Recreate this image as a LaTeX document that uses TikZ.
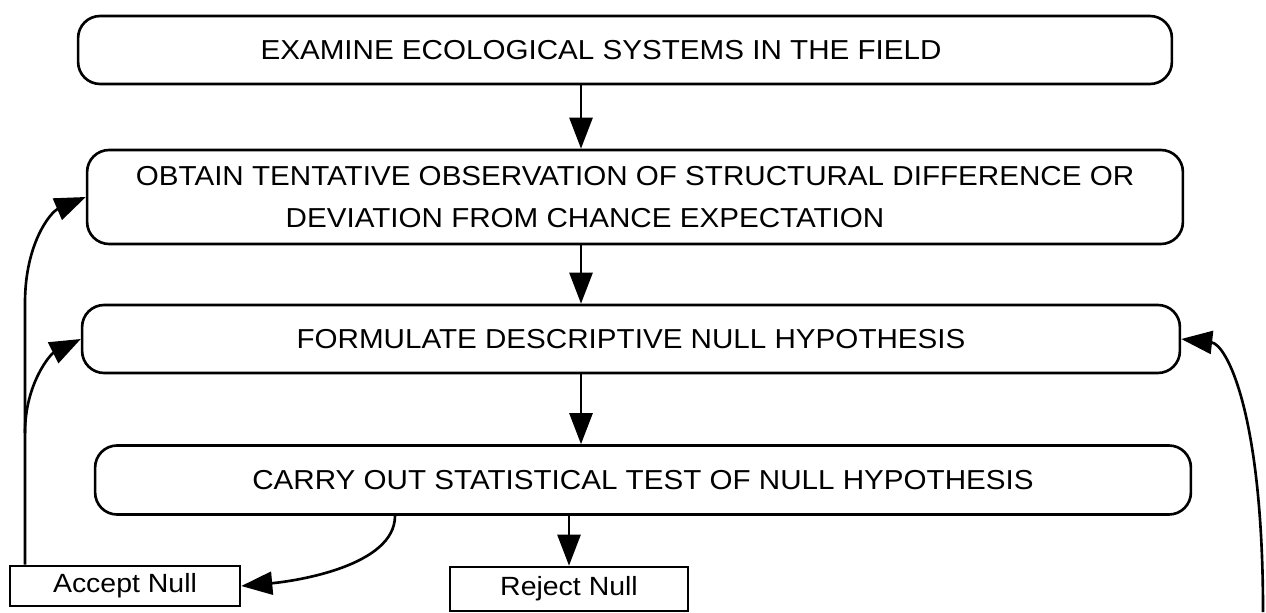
\documentclass[tikz,border=0pt]{standalone}
\usepackage{fontspec}
\setmainfont{Liberation Sans}[FakeStretch=1.08]
\usetikzlibrary{arrows.meta}

\begin{document}
\begin{tikzpicture}[x=0.02cm,y=0.02cm,line width=1.5pt,
  stepbox/.style={draw,rounded corners=0.44cm,align=center,inner sep=0pt,
    font=\fontsize{15.6pt}{24pt}\selectfont},
  nullbox/.style={draw,inner sep=0pt,font=\fontsize{15pt}{17pt}\selectfont},
  flow/.style={-{Triangle[length=0.62cm,width=0.46cm]}}]
  \useasboundingbox (0,0) rectangle (1266,612);
  \node[stepbox,minimum width=21.88cm,minimum height=1.36cm] (examine) at (625,562)
    {\hspace*{-0.96cm}EXAMINE ECOLOGICAL SYSTEMS IN THE FIELD};
  \node[stepbox,minimum width=21.92cm,minimum height=1.88cm] (obtain) at (635,415)
    {OBTAIN TENTATIVE OBSERVATION OF STRUCTURAL DIFFERENCE OR\\
     \hspace*{-2cm}DEVIATION FROM CHANCE EXPECTATION};
  \node[stepbox,minimum width=21.96cm,minimum height=1.36cm] (formulate) at (631,273)
    {FORMULATE DESCRIPTIVE NULL HYPOTHESIS};
  \node[stepbox,minimum width=21.92cm,minimum height=1.38cm] (carryout) at (643,132)
    {CARRY OUT STATISTICAL TEST OF NULL HYPOTHESIS};
  \node[nullbox,minimum width=4.6cm,minimum height=0.8cm] (accept) at (125,26) {Accept Null};
  \node[nullbox,minimum width=4.76cm,minimum height=0.88cm] (reject) at (569,23) {Reject Null};

  \coordinate (midcol) at (581,0);
  \coordinate (accx) at (395,0);
  \coordinate (lbend) at (25,309);
  \coordinate (lfork) at (25,179);
  \coordinate (rfoot) at (1263,0);

  \draw[flow] (examine.south -| midcol) -- (obtain.north -| midcol);
  \draw[flow] (obtain.south -| midcol) -- (formulate.north -| midcol);
  \draw[flow] (formulate.south -| midcol) -- (carryout.north -| midcol);
  \draw[flow] (carryout.south -| reject.north) -- (reject.north);
  \draw[flow] (carryout.south -| accx) .. controls +(0,-50) and +(55,5) .. (accept.east);
  \draw[flow] (accept.north -| lbend) -- (lbend) .. controls +(0,60) and +(-35,-15) .. (obtain.west);
  \draw[flow] (lfork) .. controls +(0,50) and +(-30,-15) .. (formulate.west);
  \draw[flow] (rfoot) .. controls +(0,200) and +(45,-5) .. (formulate.east);
\end{tikzpicture}
\end{document}
